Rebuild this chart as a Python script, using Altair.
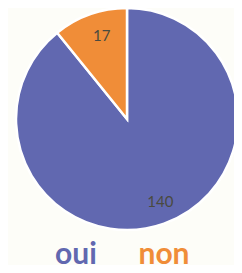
import altair as alt
import pandas as pd

categories = ["oui", "non"]
values = [140, 17]
colors = ["#6168b0", "#f08d38"]

df = pd.DataFrame({"cat": categories, "val": values, "order": [0, 1]})

color = alt.Color("cat:N", scale=alt.Scale(domain=categories, range=colors), legend=None)

base = alt.Chart(df)

pie = base.mark_arc(stroke="white", strokeWidth=2.5, outerRadius=111).encode(
    theta=alt.Theta("val:Q", stack=True),
    color=color,
    order=alt.Order("order:Q"),
    x=alt.value(119),
    y=alt.value(111),
)

labels = base.mark_text(radius=88, dx=4, font="Lato", fontSize=15, color="#4a4a40").encode(
    theta=alt.Theta("val:Q", stack=True),
    order=alt.Order("order:Q"),
    text=alt.Text("val:Q"),
    x=alt.value(119),
    y=alt.value(111),
)

legend = base.mark_text(font="Lato", fontSize=30, fontWeight="bold", baseline="alphabetic").encode(
    x=alt.X("order:Q", scale=alt.Scale(domain=[0, 1], range=[68, 156]), axis=None),
    y=alt.value(256),
    text="cat:N",
    color=color,
)

chart = alt.layer(pie, labels, legend).properties(
    width=226, height=257, padding=0, background="#fdfdf8",
    autosize=alt.AutoSizeParams(type="none"),
).configure_view(stroke=None)

chart.save("out.html", embed_options={"renderer": "svg", "actions": False})
